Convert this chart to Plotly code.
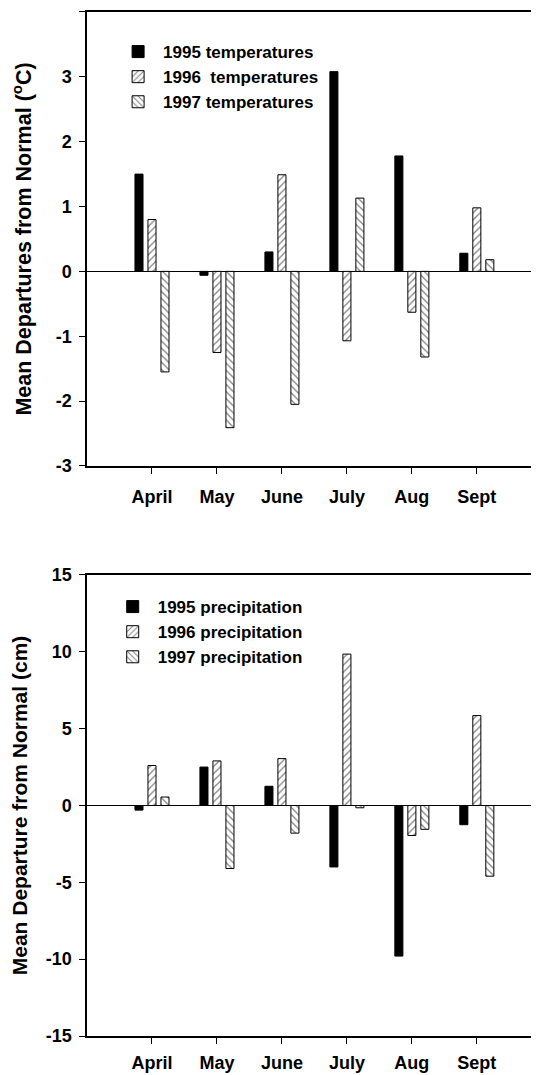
import plotly.graph_objects as go

# Monate und Werte
months = ["April", "May", "June", "July", "Aug", "Sept"]

temp_1995 = [1.5, -0.06, 0.3, 3.08, 1.78, 0.28]
temp_1996 = [0.8, -1.25, 1.49, -1.07, -0.63, 0.98]
temp_1997 = [-1.55, -2.41, -2.05, 1.13, -1.32, 0.18]

prec_1995 = [-0.3, 2.5, 1.25, -4.0, -9.8, -1.25]
prec_1996 = [2.6, 2.9, 3.05, 9.85, -1.95, 5.85]
prec_1997 = [0.55, -4.1, -1.8, -0.15, -1.55, -4.6]

temp_names = ["1995 temperatures", "1996  temperatures", "1997 temperatures"]
prec_names = ["1995 precipitation", "1996 precipitation", "1997 precipitation"]

temp_ticks = [-3, -2, -1, 0, 1, 2, 3, 4]
prec_ticks = [-15, -10, -5, 0, 5, 10, 15]

x = list(range(len(months)))
font = dict(family="Liberation Sans, Arial, sans-serif", color="black", weight="bold")

styles = [
    dict(color="black", pattern=dict(shape="")),
    dict(color="white", pattern=dict(shape="/", fgcolor="black", bgcolor="white", size=5, solidity=0.25)),
    dict(color="white", pattern=dict(shape="\\", fgcolor="black", bgcolor="white", size=5, solidity=0.25)),
]

fig = go.Figure()

for vals, name, st in zip([temp_1995, temp_1996, temp_1997], temp_names, styles):
    fig.add_trace(go.Bar(x=x, y=vals, name=name, xaxis="x", yaxis="y", legend="legend",
                         marker=dict(color=st["color"], pattern=st["pattern"],
                                     line=dict(color="black", width=1))))

for vals, name, st in zip([prec_1995, prec_1996, prec_1997], prec_names, styles):
    fig.add_trace(go.Bar(x=x, y=vals, name=name, xaxis="x2", yaxis="y2", legend="legend2",
                         marker=dict(color=st["color"], pattern=st["pattern"],
                                     line=dict(color="black", width=1))))

# Hinweis: die Seite hat 8px Rand, daher sind die Domains etwas verschoben
xax = dict(range=[-1, 6.08], tickvals=x, ticktext=months, showgrid=False, zeroline=False,
           showline=True, linecolor="black", linewidth=1.5, mirror=True, automargin=False,
           ticks="outside", ticklen=6, tickcolor="black",
           tickfont=dict(font, size=18))
yax = dict(showgrid=False, zeroline=True, zerolinecolor="black", zerolinewidth=1,
           showline=True, linecolor="black", linewidth=1.5, automargin=False,
           ticks="outside", ticklen=6, tickcolor="black", ticklabelstandoff=4,
           tickfont=dict(font, size=18))

fig.update_layout(
    width=539, height=1075,
    margin=dict(l=0, r=0, t=0, b=0),
    paper_bgcolor="white", plot_bgcolor="white",
    barmode="group", bargap=0.4, bargroupgap=0.38,
    font=font,
    xaxis=dict(xax, domain=[0.1466, 1.0], anchor="y", ticklabelstandoff=8),
    yaxis=dict(yax, domain=[0.574, 0.9963], anchor="x", range=[-3, 4], tickvals=temp_ticks,
               ticktext=[str(v) for v in temp_ticks],
               title=dict(text="Mean Departures from Normal (<sup>o</sup>C)", font=dict(font, size=21.5), standoff=18)),
    xaxis2=dict(xax, domain=[0.1466, 1.0], anchor="y2", ticklabelstandoff=4),
    yaxis2=dict(yax, domain=[0.0437, 0.4726], anchor="x2", range=[-15, 15], tickvals=prec_ticks,
                ticktext=[str(v) for v in prec_ticks],
                title=dict(text="Mean Departure from Normal (cm)", font=dict(font, size=21), standoff=15)),
    legend=dict(x=0.195, y=0.9758, xanchor="left", yanchor="top", bgcolor="rgba(0,0,0,0)",
                font=dict(font, size=17), tracegroupgap=0, itemwidth=40),
    legend2=dict(x=0.185, y=0.4595, xanchor="left", yanchor="top", bgcolor="rgba(0,0,0,0)",
                 font=dict(font, size=17), tracegroupgap=0, itemwidth=40),
)

fig.write_html("out.html")
